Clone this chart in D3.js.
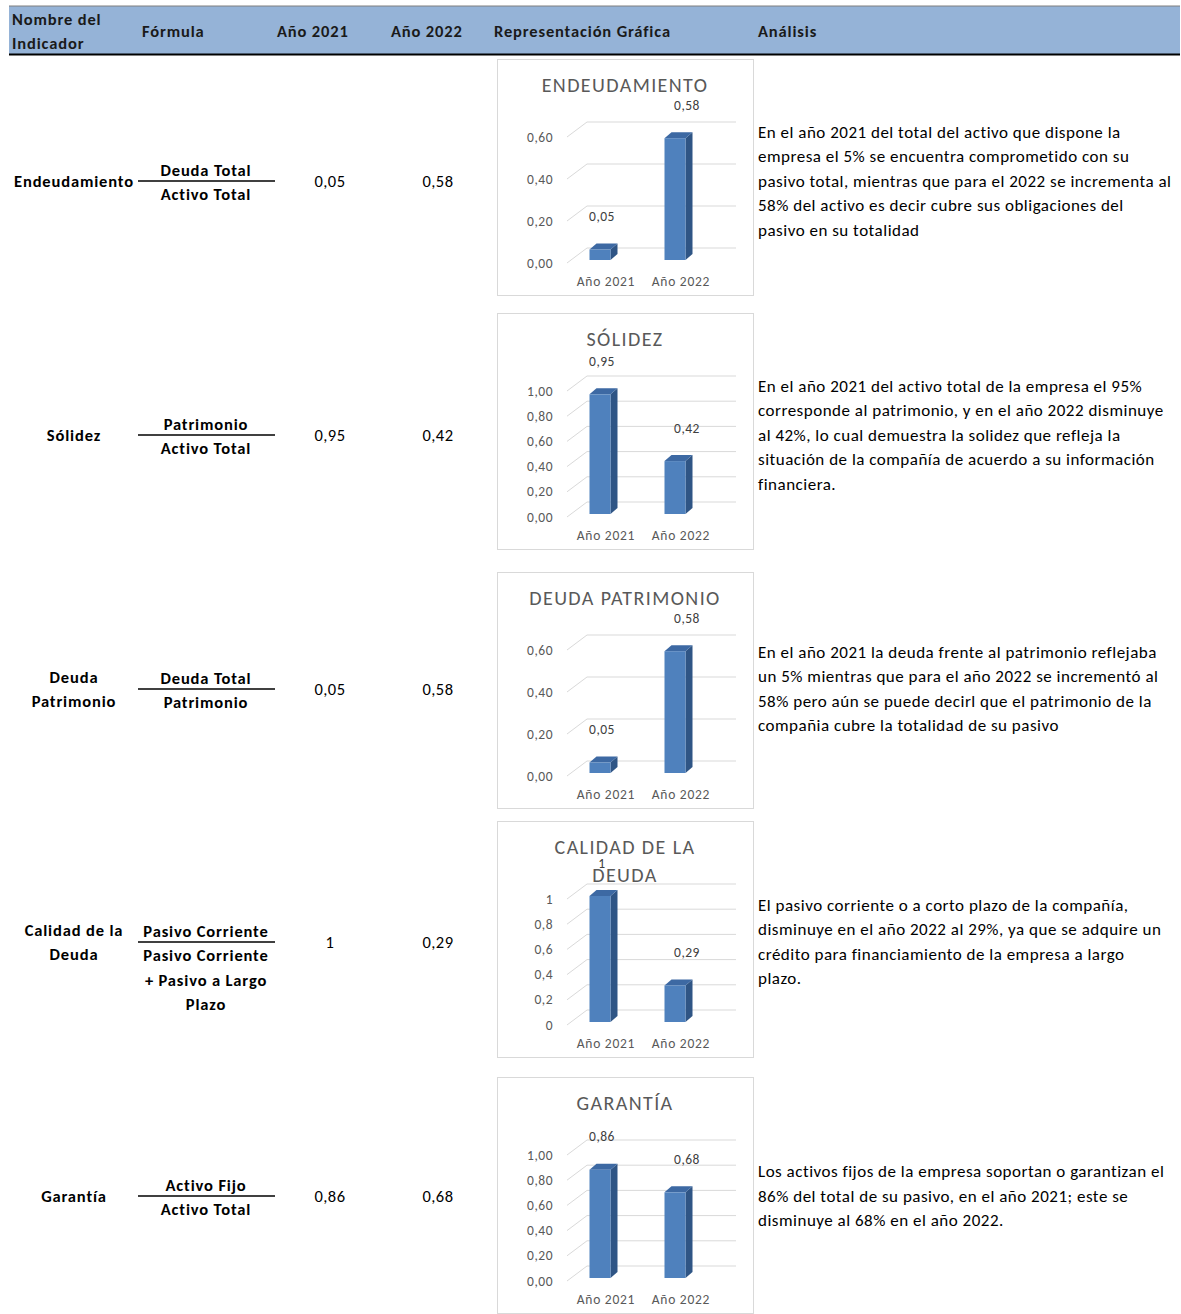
<!DOCTYPE html>
<html>
<head>
<meta charset="utf-8">
<script src="https://cdn.jsdelivr.net/npm/d3@7"></script>
<style>
  body { margin: 0; background: #fff; }
  svg { display: block; font-family: Carlito, Calibri, Lato, sans-serif; }
</style>
</head>
<body>
<svg id="chart" width="1181" height="1314"></svg>
<script>
// table data
const headers = [['Nombre del', 'Indicador'], ['Fórmula'], ['Año 2021'], ['Año 2022'], ['Representación Gráfica'], ['Análisis']]
const indicatorNames = [['Endeudamiento'], ['Sólidez'], ['Deuda', 'Patrimonio'], ['Calidad de la', 'Deuda'], ['Garantía']]
const numerators = ['Deuda Total', 'Patrimonio', 'Deuda Total', 'Pasivo Corriente', 'Activo Fijo']
const denominators = [['Activo Total'], ['Activo Total'], ['Patrimonio'], ['Pasivo Corriente', '+ Pasivo a Largo', 'Plazo'], ['Activo Total']]
const years = ['Año 2021', 'Año 2022']
const values2021 = [0.05, 0.95, 0.05, 1, 0.86]
const values2022 = [0.58, 0.42, 0.58, 0.29, 0.68]
const chartTitles = [['ENDEUDAMIENTO'], ['SÓLIDEZ'], ['DEUDA PATRIMONIO'], ['CALIDAD DE LA', 'DEUDA'], ['GARANTÍA']]
const axisMax = [0.6, 1, 0.6, 1, 1]
const tickFormats = ['.2f', '.2f', '.2f', '.1~f', '.2f']
const labelFormats = ['.2f', '.2f', '.2f', '.2~f', '.2f']
const analysis = [
    ['En el año 2021 del total del activo que dispone la', 'empresa el 5% se encuentra comprometido con su', 'pasivo total, mientras que para el 2022 se incrementa al', '58% del activo  es decir cubre sus obligaciones del', 'pasivo en su totalidad'],
    ['En el año 2021 del activo total de la empresa el 95%', 'corresponde al patrimonio, y en el año 2022 disminuye', 'al 42%,  lo cual demuestra la solidez que refleja la', 'situación de la compañía de acuerdo a su información', 'financiera.'],
    ['En el año 2021 la deuda frente al patrimonio reflejaba', 'un 5% mientras que para el año 2022 se incrementó al', '58% pero aún se puede decirl que el patrimonio de la', 'compañia cubre la totalidad de su pasivo'],
    ['El pasivo corriente o a corto plazo de la compañía,', 'disminuye en el año 2022 al 29%, ya que se adquire un', 'crédito para financiamiento de la empresa a largo', 'plazo.'],
    ['Los activos fijos de la empresa soportan o garantizan el', '86% del total de su pasivo, en el año 2021; este se', 'disminuye al 68% en el año 2022.']
]

const locale = d3.formatLocale({ decimal: ',', thousands: '.', grouping: [3], currency: ['', ''] })
const svg = d3.select('#chart')

const rowCenters = [181, 435, 689, 942, 1196]
const boxTops = [59, 313, 572, 821, 1077]
const lineStep = 24.5
const boldSize = 16.5, boldSpacing = 0.85
const textSize = 17, textSpacing = 0.5

// header band
svg.append('rect').attr('x', 9).attr('y', 6).attr('width', 1171).attr('height', 48).attr('fill', '#95b3d7')
svg.append('line').attr('x1', 9).attr('x2', 1180).attr('y1', 6).attr('y2', 6).attr('stroke', '#7f7f7f').attr('stroke-width', 1)
svg.append('line').attr('x1', 9).attr('x2', 1180).attr('y1', 54.5).attr('y2', 54.5).attr('stroke', '#000').attr('stroke-width', 2)

const headerX = [12, 142, 277, 391, 494, 758]
headers.forEach((lines, i) => {
    lines.forEach((l, j) => {
        svg.append('text')
            .attr('x', headerX[i])
            .attr('y', lines.length > 1 ? 19 + j * 24 : 31)
            .attr('dominant-baseline', 'central')
            .attr('font-size', boldSize).attr('font-weight', 'bold').attr('letter-spacing', boldSpacing)
            .attr('fill', '#1a1a1a')
            .text(l)
    })
})

function multiline(g, lines, x, cy, opts) {
    const start = cy - (lines.length - 1) * lineStep / 2
    lines.forEach((l, j) => {
        g.append('text')
            .attr('x', x).attr('y', start + j * lineStep)
            .attr('dominant-baseline', 'central')
            .attr('text-anchor', opts.anchor || 'start')
            .attr('font-size', opts.size).attr('font-weight', opts.weight || 'normal')
            .attr('letter-spacing', opts.spacing)
            .attr('fill', '#000')
            .text(l)
    })
}

indicatorNames.forEach((name, i) => {
    const cy = rowCenters[i]
    const g = svg.append('g').attr('class', 'row')
    multiline(g, name, 74, cy, { anchor: 'middle', size: boldSize, weight: 'bold', spacing: boldSpacing })

    // formula fraction
    g.append('text').attr('x', 206).attr('y', cy - 11).attr('dominant-baseline', 'central')
        .attr('text-anchor', 'middle').attr('font-size', boldSize).attr('font-weight', 'bold')
        .attr('letter-spacing', boldSpacing).text(numerators[i])
    g.append('line').attr('x1', 138).attr('x2', 275).attr('y1', cy).attr('y2', cy).attr('stroke', '#000').attr('stroke-width', 1.5)
    denominators[i].forEach((d, j) => {
        g.append('text').attr('x', 206).attr('y', cy + 13 + j * lineStep).attr('dominant-baseline', 'central')
            .attr('text-anchor', 'middle').attr('font-size', boldSize).attr('font-weight', 'bold')
            .attr('letter-spacing', boldSpacing).text(d)
    })

    const fmt = locale.format(labelFormats[i])
    g.append('text').attr('x', 330).attr('y', cy).attr('dominant-baseline', 'central')
        .attr('text-anchor', 'middle').attr('font-size', 16.5).attr('letter-spacing', textSpacing).text(fmt(values2021[i]))
    g.append('text').attr('x', 438).attr('y', cy).attr('dominant-baseline', 'central')
        .attr('text-anchor', 'middle').attr('font-size', 16.5).attr('letter-spacing', textSpacing).text(fmt(values2022[i]))

    multiline(g, analysis[i], 758, cy, { size: textSize, spacing: textSpacing })

    drawChart(i)
})

function drawChart(i) {
    const x0 = 497, y0 = boxTops[i]
    const g = svg.append('g').attr('class', 'mini-chart')
    g.append('rect').attr('x', x0 + 0.5).attr('y', y0 + 0.5).attr('width', 256).attr('height', 236)
        .attr('fill', '#fff').attr('stroke', '#d9d9d9')

    const titleLines = chartTitles[i]
    titleLines.forEach((t, j) => {
        g.append('text').attr('x', x0 + 128).attr('y', y0 + 26 + j * 28)
            .attr('dominant-baseline', 'central').attr('text-anchor', 'middle')
            .attr('font-size', 20).attr('letter-spacing', 1.4).attr('fill', '#595959').text(t)
    })

    const y = d3.scaleLinear().domain([0, axisMax[i]]).range([y0 + 204, y0 + 78])
    const x = d3.scalePoint().domain(years).range([x0 + 103, x0 + 178])
    const ticks = d3.range(0, axisMax[i] + 1e-9, 0.2)
    const tickFmt = locale.format(tickFormats[i])
    const wallDx = 20, wallDy = -15
    const axX = x0 + 70

    ticks.forEach(t => {
        g.append('path')
            .attr('d', `M${axX},${y(t)}L${axX + wallDx},${y(t) + wallDy}L${x0 + 239},${y(t) + wallDy}`)
            .attr('fill', 'none').attr('stroke', '#d9d9d9').attr('stroke-width', 1)
        g.append('text').attr('x', x0 + 56).attr('y', y(t)).attr('dominant-baseline', 'central')
            .attr('text-anchor', 'end').attr('font-size', 13.5).attr('letter-spacing', 0.5)
            .attr('fill', '#595959').text(tickFmt(t))
    })

    years.forEach(yr => {
        g.append('text').attr('x', x(yr) + 6).attr('y', y0 + 222).attr('dominant-baseline', 'central')
            .attr('text-anchor', 'middle').attr('font-size', 13.5).attr('letter-spacing', 0.75)
            .attr('fill', '#595959').text(yr)
    })

    const bw = 21, dx = 7, dy = -6
    const base = y(0) - 3
    const vals = [values2021[i], values2022[i]]
    const labelFmt = locale.format(labelFormats[i])
    const labelDx = [2, 12]
    vals.forEach((v, k) => {
        const cx = x(years[k])
        const left = cx - bw / 2, right = cx + bw / 2
        const top = base - (y(0) - y(v))
        g.append('path').attr('d', `M${right},${base}L${right + dx},${base + dy}L${right + dx},${top + dy}L${right},${top}Z`)
            .attr('fill', '#2f5585')
        g.append('path').attr('d', `M${left},${top}L${left + dx},${top + dy}L${right + dx},${top + dy}L${right},${top}Z`)
            .attr('fill', '#3d69a3')
        g.append('rect').attr('x', left).attr('y', top).attr('width', bw).attr('height', base - top)
            .attr('fill', '#4f81bd')
        g.append('text').attr('x', cx + labelDx[k]).attr('y', top - 33).attr('dominant-baseline', 'central')
            .attr('text-anchor', 'middle').attr('font-size', 13.5).attr('letter-spacing', 0.5)
            .attr('fill', '#404040').text(labelFmt(v))
    })
}
</script>
</body>
</html>
